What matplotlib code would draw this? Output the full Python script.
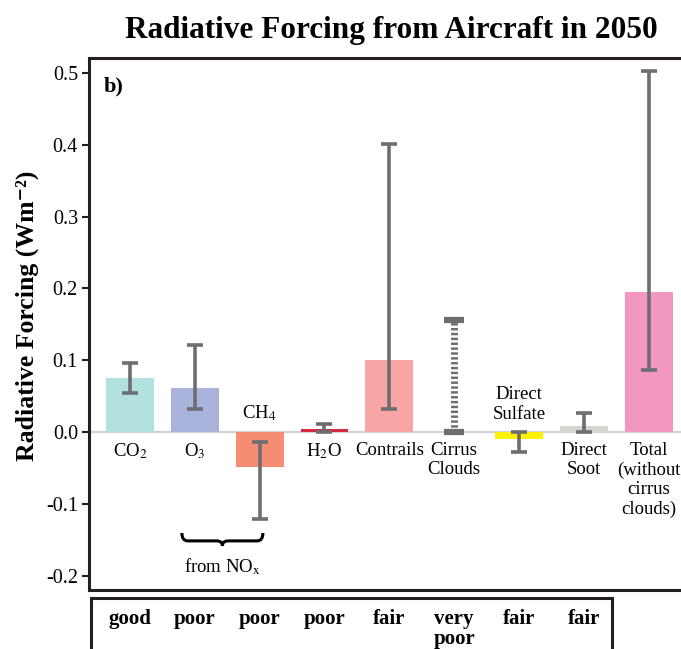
import matplotlib
matplotlib.use("Agg")
import matplotlib.pyplot as plt
import matplotlib.transforms as mtransforms
from matplotlib.path import Path
from matplotlib.patches import PathPatch, Rectangle

plt.rcParams['font.family'] = ['Liberation Serif', 'DejaVu Serif']
plt.rcParams['mathtext.fontset'] = 'stix'

# data
kategorie = ["CO$_2$", "O$_3$", "CH$_4$", "H$_2$O", "Contrails", "Cirrus\nClouds",
             "Direct\nSulfate", "Direct\nSoot", "Total\n(without\ncirrus\nclouds)"]
wartosci = [0.075, 0.062, -0.048, 0.005, 0.100, 0.0, -0.010, 0.009, 0.195]
dolne = [0.054, 0.033, -0.120, 0.001, 0.033, 0.0, -0.028, 0.0, 0.087]
gorne = [0.096, 0.121, -0.014, 0.012, 0.401, 0.156, 0.0, 0.027, 0.502]
kolory = ["#b3e1de", "#aab3db", "#f58d72", "#d8283f", "#f7a6a5", "#ffffff",
          "#fff200", "#d6d6ce", "#f297c0"]
etykieta_nad = [False, False, True, False, False, False, True, False, False]
ocena = ["good", "poor", "poor", "poor", "fair", "very\npoor", "fair", "fair"]

x = list(range(len(kategorie)))

fig = plt.figure(figsize=(6.81, 6.49), dpi=100)
ax = fig.add_axes([89/681, 59.2/649, 1 - 89/681, 531.5/649])

ax.axhline(0, color="#d2d2d2", linewidth=1.6, zorder=0)

for i in x:
    if i == 5:
        continue
    ax.bar(i, wartosci[i], width=0.74, color=kolory[i], zorder=1)
    ax.errorbar(i, wartosci[i],
                yerr=[[wartosci[i] - dolne[i]], [gorne[i] - wartosci[i]]],
                fmt="none", ecolor="#6d6e71", elinewidth=2.6, capsize=6, capthick=2.6, zorder=2)

# cirrus - only a dashed range
eb = ax.errorbar(5, (dolne[5] + gorne[5]) / 2, yerr=(gorne[5] - dolne[5]) / 2,
                 fmt="none", ecolor="#6d6e71", elinewidth=5, capsize=7.5, capthick=4.5, zorder=2)
eb[2][0].set_linestyle((0, (0.35, 0.35)))

for i in x:
    if etykieta_nad[i]:
        ax.text(i, 0.013, kategorie[i], ha="center", va="bottom", fontsize=13.5,
                linespacing=1.2)
    else:
        ax.text(i, -0.013, kategorie[i], ha="center", va="top", fontsize=13.5,
                linespacing=1.2)

# klamra "from NOx"
x0, x1 = 0.80, 2.05
xm = (x0 + x1) / 2
yt, ym, yb = -0.140, -0.151, -0.158
d = 0.09
wierzcholki = [(x0, yt), (x0, ym), (x0 + d, ym), (xm - d, ym), (xm, ym), (xm, yb),
               (xm, ym), (xm + d, ym), (x1 - d, ym), (x1, ym), (x1, yt)]
kody = [Path.MOVETO, Path.CURVE3, Path.CURVE3, Path.LINETO, Path.CURVE3, Path.CURVE3,
        Path.CURVE3, Path.CURVE3, Path.LINETO, Path.CURVE3, Path.CURVE3]
ax.add_patch(PathPatch(Path(wierzcholki, kody), facecolor="none", edgecolor="black",
                       linewidth=2.2, zorder=3))
ax.text(xm, -0.172, "from NO$_\\mathrm{x}$", ha="center", va="top", fontsize=13.5)

ax.text(0.025, 0.965, "b)", transform=ax.transAxes, ha="left", va="top",
        fontsize=16, fontweight="bold")

ax.set_xlim(-0.633, 8.5)
ax.set_ylim(-0.219, 0.52)
ax.set_xticks([])
ax.set_yticks([-0.2, -0.1, 0.0, 0.1, 0.2, 0.3, 0.4, 0.5])
ax.set_yticklabels(["-0.2", "-0.1", "0.0", "0.1", "0.2", "0.3", "0.4", "0.5"])
ax.tick_params(axis="y", labelsize=14.5, length=5, width=1.5, color="#231f20", pad=3)
for s in ["left", "top", "bottom"]:
    ax.spines[s].set_linewidth(2.2)
    ax.spines[s].set_color("#231f20")
ax.spines["right"].set_visible(False)

ax.set_ylabel("Radiative Forcing (Wm\u207b\u00b2)", fontsize=18.5, fontweight="bold")
ax.yaxis.set_label_coords(-0.085, 0.515)

fig.text(0.574, 0.953, "Radiative Forcing from Aircraft in 2050", ha="center", va="center",
         fontsize=22.5, fontweight="bold")

# tabela z ocena
tr = mtransforms.blended_transform_factory(ax.transData, fig.transFigure)
fig.patches.append(Rectangle((-0.6, -0.2), 8.04, 0.2 + 51/649, transform=tr, fill=False,
                             edgecolor="#231f20", linewidth=2.2))
for i, o in enumerate(ocena):
    fig.text(i, 1 - 609/649, o, transform=tr, ha="center", va="top", fontsize=15,
             fontweight="bold", linespacing=1.0)

fig.savefig("out.png", dpi=100)
